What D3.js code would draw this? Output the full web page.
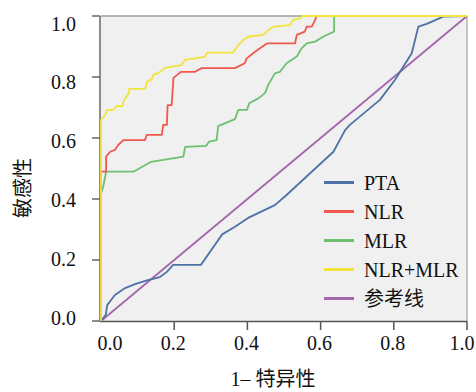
<!DOCTYPE html>
<html>
<head>
<meta charset="utf-8">
<script src="https://cdn.jsdelivr.net/npm/d3@7"></script>
<style>
  body { margin: 0; background: #fff; }
</style>
</head>
<body>
<svg id="chart" width="476" height="392"></svg>
<script>
// ---- data ----
const xTicks = [0, 0.2, 0.4, 0.6, 0.8, 1.0]
const yTicks = [0, 0.2, 0.4, 0.6, 0.8, 1.0]
const seriesNames = ['PTA', 'NLR', 'MLR', 'NLR+MLR', '参考线']
const seriesColors = ['#4d72a6', '#f0574d', '#6cc070', '#f2e43a', '#a466ac']

const pta = [[0, 0], [0.013, 0.02], [0.017, 0.052], [0.038, 0.085], [0.066, 0.108], [0.093, 0.121],
  [0.128, 0.134], [0.161, 0.144], [0.18, 0.161], [0.197, 0.184], [0.273, 0.184], [0.311, 0.249],
  [0.331, 0.284], [0.366, 0.309], [0.402, 0.338], [0.475, 0.38], [0.507, 0.413], [0.635, 0.555],
  [0.667, 0.626], [0.68, 0.643], [0.762, 0.725], [0.803, 0.79], [0.849, 0.878], [0.867, 0.965],
  [0.89, 0.974], [0.935, 0.998], [1, 1]]

const nlr = [[0, 0], [0, 0.49], [0.014, 0.49], [0.014, 0.539], [0.025, 0.555], [0.038, 0.561],
  [0.047, 0.577], [0.061, 0.593], [0.12, 0.593], [0.125, 0.61], [0.166, 0.61], [0.17, 0.643],
  [0.18, 0.643], [0.182, 0.708], [0.193, 0.708], [0.198, 0.797], [0.208, 0.807], [0.219, 0.817],
  [0.257, 0.817], [0.275, 0.829], [0.366, 0.829], [0.393, 0.845], [0.398, 0.861], [0.421, 0.883],
  [0.453, 0.91], [0.53, 0.91], [0.535, 0.938], [0.557, 0.949], [0.562, 0.965], [0.576, 0.965],
  [0.585, 0.987], [0.589, 1], [1, 1]]

const mlr = [[0, 0], [0, 0.42], [0.006, 0.44], [0.014, 0.49], [0.09, 0.49], [0.137, 0.522],
  [0.225, 0.539], [0.23, 0.571], [0.287, 0.574], [0.295, 0.588], [0.316, 0.593], [0.32, 0.639],
  [0.366, 0.662], [0.375, 0.692], [0.399, 0.692], [0.405, 0.714], [0.43, 0.73], [0.448, 0.747],
  [0.457, 0.774], [0.475, 0.812], [0.489, 0.817], [0.507, 0.845], [0.535, 0.867], [0.548, 0.894],
  [0.562, 0.91], [0.585, 0.916], [0.607, 0.932], [0.637, 0.949], [0.637, 1], [1, 1]]

const nlrMlr = [[0, 0], [0, 0.659], [0.011, 0.675], [0.017, 0.692], [0.034, 0.692], [0.043, 0.705],
  [0.059, 0.705], [0.063, 0.725], [0.075, 0.744], [0.077, 0.761], [0.12, 0.761], [0.126, 0.784],
  [0.139, 0.793], [0.143, 0.807], [0.161, 0.816], [0.175, 0.83], [0.219, 0.839], [0.23, 0.856],
  [0.257, 0.861], [0.284, 0.866], [0.29, 0.88], [0.361, 0.88], [0.375, 0.905], [0.389, 0.921],
  [0.402, 0.932], [0.443, 0.938], [0.457, 0.954], [0.471, 0.965], [0.516, 0.97], [0.525, 0.987],
  [0.544, 0.992], [0.55, 1], [1, 1]]

const refLine = [[0, 0], [1, 1]]

// ---- layout ----
const serif = 'Liberation Serif'
const cjk = 'Noto Sans CJK SC'
const svg = d3.select('#chart')
const x = d3.scaleLinear().domain([0, 1]).range([101, 467])
const y = d3.scaleLinear().domain([0, 1]).range([321, 16])
// tick labels in the picture sit a bit tighter than the ticks
const yLab = d3.scaleLinear().domain([0, 1]).range([317.5, 23.5])

svg.append('rect').attr('x', x(0)).attr('y', y(1)).attr('width', x(1) - x(0)).attr('height', y(0) - y(1))
  .style('fill', '#f0f0f0')
svg.append('line').attr('x1', x(0)).attr('x2', x(1)).attr('y1', y(1)).attr('y2', y(1)).style('stroke', '#9c9c9c').style('stroke-width', 1.5)
svg.append('line').attr('x1', x(1)).attr('x2', x(1)).attr('y1', y(1)).attr('y2', y(0)).style('stroke', '#b4b4b4').style('stroke-width', 1.5)

// y axis
svg.append('line').attr('x1', x(0) - 1).attr('x2', x(0) - 1).attr('y1', y(1)).attr('y2', y(0)).style('stroke', '#666').style('stroke-width', 1.5)
svg.selectAll('.ytick').data(yTicks).join('line').attr('class', 'ytick')
  .attr('x1', x(0) - 9).attr('x2', x(0) - 1).attr('y1', d => y(d)).attr('y2', d => y(d))
  .style('stroke', '#666').style('stroke-width', 1.5)
svg.selectAll('.ylab').data(yTicks).join('text').attr('class', 'ylab')
  .attr('x', 76).attr('y', d => yLab(d)).attr('dy', '0.35em').attr('text-anchor', 'end')
  .attr('font-family', serif).attr('font-size', 20).attr('fill', '#111').text(d => d3.format('.1f')(d))

// x axis
svg.append('line').attr('x1', x(0) - 1).attr('x2', x(1)).attr('y1', y(0) + 0.5).attr('y2', y(0) + 0.5).style('stroke', '#555').style('stroke-width', 1.5)
svg.selectAll('.xtick').data(xTicks.slice(1)).join('line').attr('class', 'xtick')
  .attr('x1', d => x(d)).attr('x2', d => x(d)).attr('y1', y(0)).attr('y2', y(0) + 9)
  .style('stroke', '#555').style('stroke-width', 1.5)
svg.selectAll('.xlab').data(xTicks).join('text').attr('class', 'xlab')
  .attr('x', d => d === 0 ? x(d) + 9 : d === 1 ? x(d) - 5 : x(d) - 1).attr('y', 350).attr('text-anchor', 'middle')
  .attr('font-family', serif).attr('font-size', 20).attr('fill', '#111').text(d => d3.format('.1f')(d))

// axis titles
svg.append('text').attr('x', 273).attr('y', 386).attr('text-anchor', 'middle').attr('font-size', 20).attr('fill', '#111')
  .call(t => {
    t.append('tspan').attr('font-family', serif).text('1– ')
    t.append('tspan').attr('font-family', cjk).text('特异性')
  })
svg.append('text').attr('transform', 'translate(30,188) rotate(-90)')
  .attr('text-anchor', 'middle').attr('font-family', cjk).attr('font-size', 20).attr('fill', '#111').text('敏感性')

// curves
const line = d3.line().x(d => x(d[0])).y(d => y(d[1]))
const curves = [[refLine, 4], [pta, 0], [mlr, 2], [nlr, 1], [nlrMlr, 3]]
svg.selectAll('.curve').data(curves).join('path').attr('class', 'curve')
  .attr('d', d => line(d[0])).style('fill', 'none')
  .style('stroke', d => seriesColors[d[1]]).style('stroke-width', 1.8).style('stroke-linejoin', 'round')

// legend
const legend = svg.selectAll('.legend').data(seriesNames).join('g').attr('class', 'legend')
  .attr('transform', (d, i) => `translate(324,${182.5 + i * 29})`)
legend.append('line').attr('x1', 0).attr('x2', 30).attr('y1', 0).attr('y2', 0)
  .style('stroke', (d, i) => seriesColors[i]).style('stroke-width', 3)
legend.append('text').attr('x', 40).attr('dy', '0.35em').attr('font-size', 20).attr('fill', '#111')
  .attr('font-family', d => /[\u4e00-\u9fff]/.test(d) ? cjk : serif).text(d => d)
</script>
</body>
</html>
